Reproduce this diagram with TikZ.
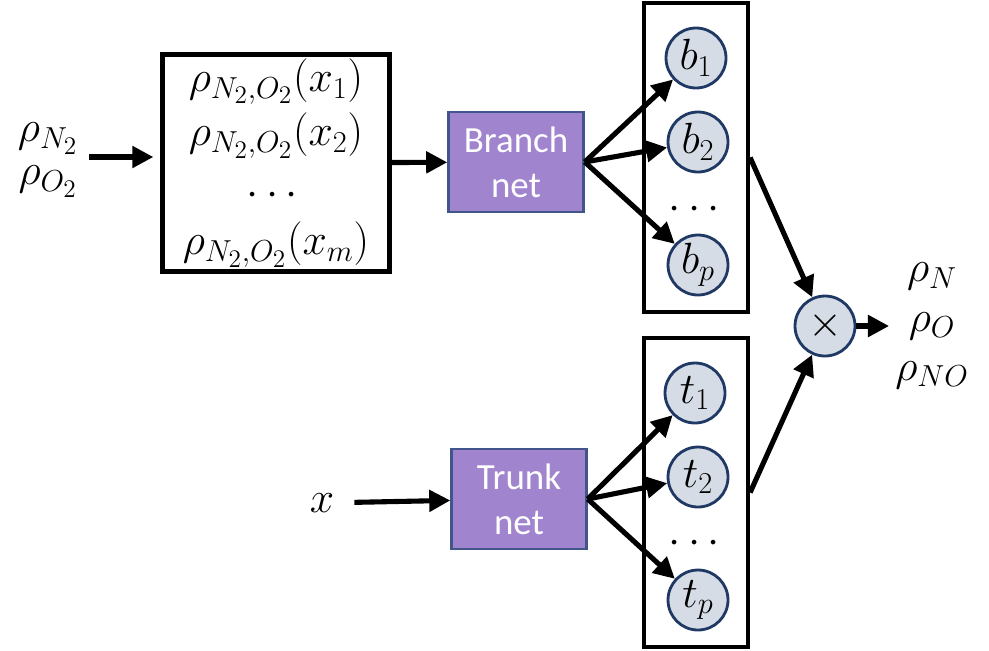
\documentclass[tikz,border=0pt]{standalone}
\usepackage{amsmath}
\usepackage{fontspec}
\setsansfont{Carlito}
\usetikzlibrary{arrows.meta, positioning, calc}

\definecolor{netpurple}{HTML}{A184CE}
\definecolor{netedge}{HTML}{41558A}
\definecolor{unitgray}{HTML}{D6DCE5}
\definecolor{unitedge}{HTML}{1F3864}

\begin{document}
\begin{tikzpicture}[x=0.02cm, y=-0.02cm,
    conn/.style={line width=2.9pt, -{Triangle[length=12pt,width=12pt]}},
    frame/.style={draw, line width=2.4pt, inner sep=0pt},
    net/.style={draw=netedge, fill=netpurple, line width=1.4pt, text=white,
        font=\sffamily\fontsize{21}{25.5}\selectfont, align=center,
        minimum width=2.7cm, minimum height=2cm},
    unit/.style={circle, draw=unitedge, fill=unitgray, line width=1.6pt,
        minimum size=1.2cm, inner sep=0pt, font=\fontsize{26}{28}\selectfont},
    lbl/.style={font=\fontsize{27}{31}\selectfont, align=center}]

    \useasboundingbox (0,0) rectangle (989,650);

    % inputs
    \node[lbl, font=\fontsize{27}{24.5}\selectfont] (sens) at (48,160) {$\rho_{N_2}$\\$\rho_{O_2}$};
    \coordinate (sensout) at (89,157);
    \node[lbl] (xin) at (322,503) {$x$};

    % sampled input functions
    \node[frame, lbl, minimum width=4.54cm, minimum height=4.34cm] (samp) at (276,163)
        {$\rho_{N_2,O_2}(x_1)$\\$\rho_{N_2,O_2}(x_2)$\\[3pt]$\cdots$\\[-3pt]$\rho_{N_2,O_2}(x_m)$};

    % the two nets
    \node[net] (branch) at (516,162) {Branch\\net};
    \node[net] (trunk) at (519,499) {Trunk\\net};

    % output columns
    \node[frame, minimum width=2.08cm, minimum height=6.18cm] (bcol) at (696,157.5) {};
    \node[frame, minimum width=2.08cm, minimum height=6.18cm] (tcol) at (696,492.5) {};

    \node[unit] (b1) at (696,58) {$b_1$};
    \node[unit] (b2) at (698,142) {$b_2$};
    \node[lbl] (bdots) at (698,210) {$\cdots$};
    \node[unit] (bp) at (698,265) {$b_p$};

    \node[unit] (t1) at (695,393) {$t_1$};
    \node[unit] (t2) at (698,477) {$t_2$};
    \node[lbl] (tdots) at (698,544) {$\cdots$};
    \node[unit] (tp) at (698,600) {$t_p$};

    % product and outputs
    \node[unit] (prod) at (825,326) {$\times$};
    \node[lbl, font=\fontsize{27}{28}\selectfont] (outs) at (932,326) {$\rho_N$\\$\rho_O$\\$\rho_{NO}$};

    % connectors
    \draw[conn, shorten >=4pt] (sensout) -- (samp.west |- sensout);
    \draw[conn] (samp) -- (branch);
    \draw[conn, shorten <=8pt] (xin) -- (trunk);

    \foreach \u in {b1,b2,bp}
        \draw[conn] (branch.east) -- (\u);
    \foreach \u in {t1,t2,tp}
        \draw[conn] (trunk.east) -- (\u);

    \draw[conn] (bcol.east) -- (prod);
    \draw[conn] (tcol.east) -- (prod);
    \draw[conn] (prod) -- (outs.west);
\end{tikzpicture}
\end{document}
